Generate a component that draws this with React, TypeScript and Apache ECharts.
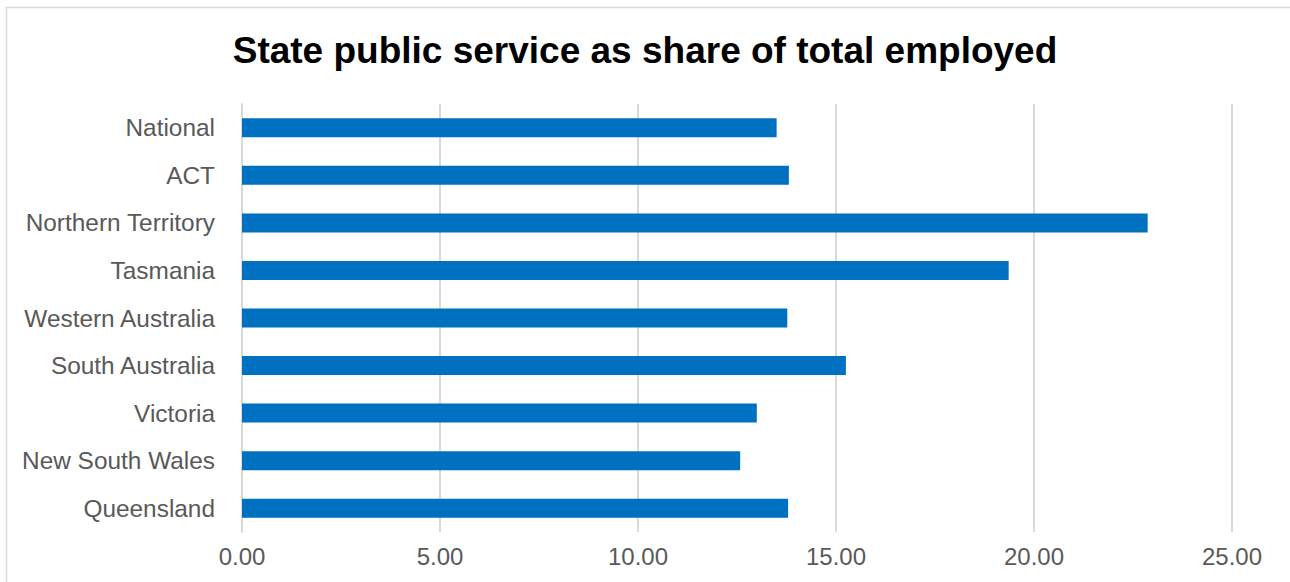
import React, { useEffect, useRef } from "react";
import * as echarts from "echarts";

const categories = [
  "Queensland",
  "New South Wales",
  "Victoria",
  "South Australia",
  "Western Australia",
  "Tasmania",
  "Northern Territory",
  "ACT",
  "National",
];
const values = [13.79, 12.58, 13.0, 15.25, 13.77, 19.36, 22.87, 13.81, 13.5];
const title = "State public service as share of total employed";

export default function App() {
  const ref = useRef<HTMLDivElement>(null);
  useEffect(() => {
    document.body.style.margin = "0";
    const chart = echarts.init(ref.current!, null, { renderer: "svg" });
    chart.setOption({
      animation: false,
      backgroundColor: "#ffffff",
      title: {
        text: title,
        left: "center",
        top: 27,
        textStyle: {
          fontFamily: "Liberation Sans, Arial, sans-serif",
          fontSize: 37,
          fontWeight: "bold",
          color: "#000000",
        },
      },
      graphic: [
        {
          type: "rect",
          shape: { x: 6.5, y: 7.5, width: 1300, height: 600 },
          style: { fill: "none", stroke: "#d9d9d9", lineWidth: 1.5 },
          silent: true,
        },
      ],
      grid: { left: 242, right: 58, top: 104, bottom: 50, containLabel: false },
      xAxis: {
        type: "value",
        min: 0,
        max: 25,
        interval: 5,
        axisLine: { show: false },
        axisTick: { show: false },
        axisLabel: {
          formatter: (v: number) => v.toFixed(2),
          fontFamily: "Liberation Sans, Arial, sans-serif",
          fontSize: 24,
          color: "#595959",
          margin: 12,
        },
        splitLine: { show: true, lineStyle: { color: "#d9d9d9", width: 2 } },
      },
      yAxis: {
        type: "category",
        data: categories,
        axisLine: { show: true, lineStyle: { color: "#d9d9d9", width: 2 } },
        axisTick: { show: false },
        axisLabel: {
          fontFamily: "Liberation Sans, Arial, sans-serif",
          fontSize: 24.4,
          color: "#595959",
          margin: 27,
        },
      },
      series: [
        {
          type: "bar",
          data: values,
          barWidth: 19,
          itemStyle: { color: "#0070c0" },
        },
      ],
    });
    return () => chart.dispose();
  }, []);
  return <div ref={ref} style={{ width: 1290, height: 582 }} />;
}
